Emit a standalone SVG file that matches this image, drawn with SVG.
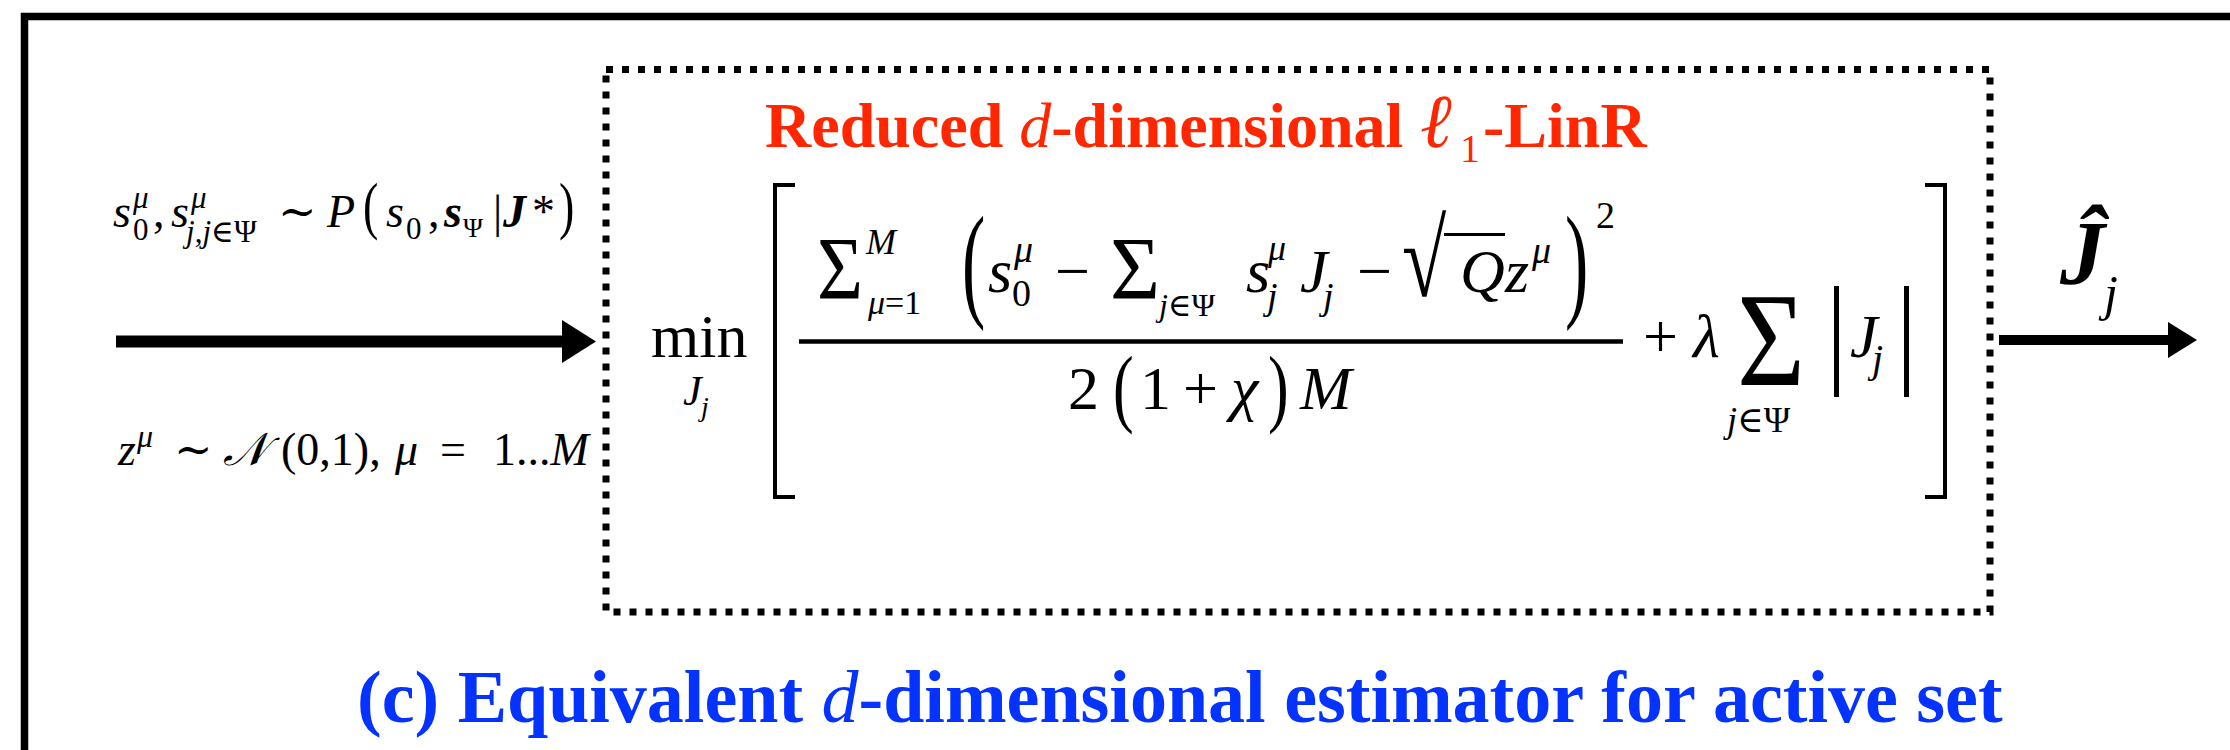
<svg xmlns="http://www.w3.org/2000/svg" width="2230" height="750" viewBox="0 0 2230 750">
<defs>
<style>
text{font-family:"Liberation Serif","DejaVu Serif",serif;fill:#000}
.i{font-style:italic}
.b{font-weight:bold}
.red{fill:#ff2600}
.blue{fill:#0433ff}
.m{font-size:62px}
.s{font-size:38px}
</style>
</defs>
<rect width="2230" height="750" fill="#fff"/>
<path id="frame" d="M24.5,760 V16.5 H2240" fill="none" stroke="#000" stroke-width="7.5"/>

<g id="estimator-box">
<rect x="606" y="69.5" width="1384" height="542.5" fill="none" stroke="#000" stroke-width="7" stroke-dasharray="7 9"/>
<text class="b red" font-size="64" y="147"><tspan x="765">Reduced </tspan><tspan class="i" font-weight="normal">d</tspan><tspan>-dimensional </tspan><tspan x="1420" class="i" font-weight="normal" font-size="76">ℓ</tspan><tspan x="1460" y="162" font-weight="normal" font-size="40">1</tspan><tspan x="1483" y="147">-LinR</tspan></text>
</g>

<g id="formula">
<text font-size="62" x="651" y="357">min</text>
<text class="i" font-size="42" x="683" y="405">J</text>
<text class="i" font-size="28" x="701" y="416">j</text>
<path d="M795,185 H775 V497 H795" fill="none" stroke="#000" stroke-width="4"/>
<path d="M1925,185 H1945 V497 H1925" fill="none" stroke="#000" stroke-width="4"/>
<line x1="799" y1="341.5" x2="1623" y2="341.5" stroke="#000" stroke-width="4.5"/>
<!-- numerator -->
<text font-size="88" x="817" y="298" textLength="46" lengthAdjust="spacingAndGlyphs">Σ</text>
<text class="i" font-size="36" x="866" y="254">M</text>
<text font-size="34" x="868" y="314"><tspan class="i">μ</tspan>=1</text>
<text font-size="70" transform="translate(962,304) scale(1,1.8)">(</text>
<text class="m i" x="988" y="292">s</text>
<text class="s i" x="1014" y="262">μ</text>
<text class="s" x="1012" y="306">0</text>
<text class="m" x="1055" y="292">−</text>
<text font-size="88" x="1110" y="298" textLength="50" lengthAdjust="spacingAndGlyphs">Σ</text>
<text font-size="32" x="1159" y="316"><tspan class="i">j</tspan>∈Ψ</text>
<text class="m i" x="1246" y="292">s</text>
<text class="i" font-size="36" x="1268" y="260">μ</text>
<text class="s i" x="1267" y="309">j</text>
<text class="m i" x="1300" y="292">J</text>
<text class="s i" x="1323" y="309">j</text>
<text class="m" x="1357" y="292">−</text>
<text font-size="62" transform="translate(1402,296) scale(1.3,1.75)">√</text>
<line x1="1444" y1="234.5" x2="1505" y2="234.5" stroke="#000" stroke-width="3"/>
<text class="m i" x="1460" y="292">Q</text>
<text class="m i" x="1505" y="292">z</text>
<text class="s i" x="1532" y="263">μ</text>
<text font-size="70" transform="translate(1565,304) scale(1,1.8)">)</text>
<text class="s" x="1596" y="228">2</text>
<!-- denominator -->
<text class="m" x="1068" y="409">2</text>
<text font-size="62" transform="translate(1113,416) scale(1,1.4)">(</text>
<text class="m" x="1140" y="409">1</text>
<text class="m" x="1183" y="409">+</text>
<text class="m i" x="1231" y="409">χ</text>
<text font-size="62" transform="translate(1268,416) scale(1,1.4)">)</text>
<text class="m i" x="1300" y="409">M</text>
<!-- penalty -->
<text font-size="62" x="1643" y="357">+</text>
<text class="m i" x="1693" y="357">λ</text>
<text font-size="133" x="1737" y="385" textLength="68" lengthAdjust="spacingAndGlyphs">Σ</text>
<text font-size="36" x="1727" y="432"><tspan class="i">j</tspan>∈Ψ</text>
<line x1="1836.5" y1="286" x2="1836.5" y2="397" stroke="#000" stroke-width="5"/>
<line x1="1906.5" y1="286" x2="1906.5" y2="397" stroke="#000" stroke-width="5"/>
<text class="m i" x="1850" y="357">J</text>
<text class="i" font-size="40" x="1872" y="372">j</text>
</g>

<g id="input-labels">
<text font-size="46" y="227"><tspan class="i" x="113">s</tspan><tspan class="i" x="133" y="208" font-size="31">μ</tspan><tspan x="133" y="240" font-size="31">0</tspan><tspan x="153" y="227">,</tspan><tspan class="i" x="171">s</tspan><tspan class="i" x="191" y="208" font-size="31">μ</tspan><tspan x="186" y="242" font-size="31"><tspan class="i">j</tspan>,<tspan class="i">j</tspan>∈Ψ</tspan><tspan x="278" y="227">∼</tspan><tspan class="i" x="327">P</tspan></text>
<text font-size="46" transform="translate(363,227) scale(1,1.4)">(</text>
<text font-size="46" y="227"><tspan class="i" x="386">s</tspan><tspan x="406" y="239" font-size="31">0</tspan><tspan x="428" y="227">,</tspan><tspan class="i b" x="444">s</tspan><tspan x="463" y="237" font-size="27">Ψ</tspan><tspan x="493" y="227">|</tspan><tspan class="i b" x="503">J</tspan><tspan x="532">*</tspan></text>
<text font-size="46" transform="translate(559,227) scale(1,1.4)">)</text>
<text font-size="46" y="465"><tspan class="i" x="118">z</tspan><tspan class="i" x="137" y="447" font-size="32">μ</tspan><tspan x="174" y="465">∼</tspan><tspan class="i" x="223">𝒩</tspan><tspan x="281">(0,1),</tspan><tspan class="i" x="395">μ</tspan><tspan x="440">=</tspan><tspan x="493">1...</tspan><tspan class="i">M</tspan></text>
</g>

<g id="output-label">
<text class="b i" font-size="90" x="2060" y="284">Ĵ</text>
<text class="i" font-size="50" x="2104" y="310">j</text>
</g>

<g id="connectors">
<line x1="116" y1="341.5" x2="563" y2="341.5" stroke="#000" stroke-width="12"/>
<polygon points="562,320 596,341.5 562,363" fill="#000"/>
<line x1="1999" y1="340" x2="2170" y2="340" stroke="#000" stroke-width="10"/>
<polygon points="2168,322 2197,340 2168,358" fill="#000"/>
</g>

<g id="caption">
<text class="b blue" font-size="74" x="357" y="722">(c) Equivalent <tspan class="i" font-weight="normal">d</tspan>-dimensional estimator for active set</text>
</g>
</svg>
